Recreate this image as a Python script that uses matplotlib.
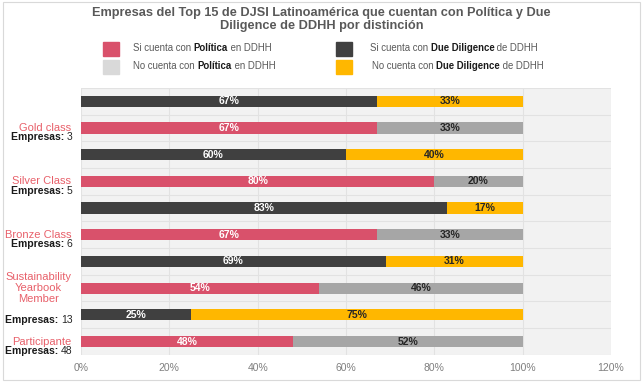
import numpy as np
import matplotlib
matplotlib.use('Agg')
import matplotlib.pyplot as plt
from matplotlib.patches import Rectangle

plt.rcParams['font.family'] = ['Liberation Sans', 'DejaVu Sans']

categorias = ['Gold class', 'Silver Class', 'Bronze Class',
              'Sustainability\nYearbook\nMember', 'Participante']
empresas = [3, 5, 6, 13, 48]
politica_si = [67, 80, 67, 54, 48]
politica_no = [33, 20, 33, 46, 52]
dd_si = [67, 60, 83, 69, 25]
dd_no = [33, 40, 17, 31, 75]
xticks = [0, 20, 40, 60, 80, 100, 120]

c_pink = '#d9516b'
c_gray = '#a6a6a6'
c_dark = '#404040'
c_yellow = '#ffb700'
c_legend_gray = '#d9d9d9'
c_cat = '#e8606a'

fig = plt.figure(figsize=(6.43, 3.82), dpi=100)
fig.patches.append(Rectangle((0.004, 0.004), 0.992, 0.992, transform=fig.transFigure,
                             fill=False, edgecolor='#d9d9d9', lw=0.8))
ax = fig.add_axes([0.126, 0.071, 0.824, 0.699])
ax.set_facecolor('#f2f2f2')

h = 0.42
n = len(categorias)
for i in range(n):
    y_dd = 2 * i
    y_pol = 2 * i + 1
    ax.barh(y_dd, dd_si[i], height=h, color=c_dark, zorder=3)
    ax.barh(y_dd, dd_no[i], left=dd_si[i], height=h, color=c_yellow, zorder=3)
    ax.barh(y_pol, politica_si[i], height=h, color=c_pink, zorder=3)
    ax.barh(y_pol, politica_no[i], left=politica_si[i], height=h, color=c_gray, zorder=3)
    ax.text(dd_si[i] / 2, y_dd, f'{dd_si[i]}%', ha='center', va='center',
            color='white', fontsize=7.5, fontweight='bold', zorder=4)
    ax.text(dd_si[i] + dd_no[i] / 2, y_dd, f'{dd_no[i]}%', ha='center', va='center',
            color='#262626', fontsize=7.5, fontweight='bold', zorder=4)
    ax.text(politica_si[i] / 2, y_pol, f'{politica_si[i]}%', ha='center', va='center',
            color='white', fontsize=7.5, fontweight='bold', zorder=4)
    ax.text(politica_si[i] + politica_no[i] / 2, y_pol, f'{politica_no[i]}%', ha='center',
            va='center', color='#262626', fontsize=7.5, fontweight='bold', zorder=4)

    # etiqueta de categoria y numero de empresas
    nlin = categorias[i].count('\n') + 1
    cat = ax.annotate(categorias[i], xy=(0, y_pol), xycoords=('axes fraction', 'data'),
                      xytext=(-7, 0), textcoords='offset points', ha='right', va='center',
                      color=c_cat, fontsize=8, multialignment='center', linespacing=1.15)
    num = ax.annotate(f'{empresas[i]}', xy=(1, 0), xycoords=cat,
                      xytext=(1, 0.5 - 4 * (nlin - 1)),
                      textcoords='offset points', ha='right', va='top',
                      color='#262626', fontsize=7.5)
    ax.annotate('Empresas: ', xy=(0, 0), xycoords=num, ha='right', va='bottom',
                color='#1a1a1a', fontsize=7.5, fontweight='bold')

ax.set_xlim(0, 120)
ax.set_ylim(2 * n - 0.55, -0.45)
ax.set_xticks(xticks)
ax.set_xticklabels([f'{t}%' for t in xticks], color='#7f7f7f', fontsize=7.5)
ax.set_yticks(np.arange(-0.5, 2 * n, 1), minor=True)
ax.set_yticks([])
ax.grid(axis='y', which='minor', color='#e2e2e2', lw=0.8, zorder=1)
ax.grid(axis='x', which='major', color='#e2e2e2', lw=0.8, zorder=1)
ax.tick_params(axis='both', which='both', length=0)
ax.tick_params(axis='x', pad=6)
for s in ax.spines.values():
    s.set_visible(False)

fig.text(0.5, 0.982, 'Empresas del Top 15 de DJSI Latinoamérica que cuentan con Política y Due\n'
         'Diligence de DDHH por distinción', ha='center', va='top', color='#595959',
         fontsize=9.2, fontweight='bold', linespacing=1.1)

# leyenda
leyenda = [
    (103, 42, 133, 48, c_pink, ['Si cuenta con ', 'Política', ' en DDHH']),
    (103, 60, 133, 66, c_legend_gray, ['No cuenta con ', 'Política', ' en DDHH']),
    (336, 42, 370, 48, c_dark, ['Si cuenta con ', 'Due Diligence', ' de DDHH']),
    (336, 60, 372, 66, c_yellow, ['No cuenta con ', 'Due Diligence', ' de DDHH']),
]
W, H = 643.0, 382.0
for x, y, tx, ty, col, partes in leyenda:
    fig.patches.append(Rectangle((x / W, 1 - (y + 14) / H), 16 / W, 14 / H,
                                 transform=fig.transFigure, color=col))
    prev = fig.text(tx / W, 1 - ty / H, partes[0], ha='left', va='center',
                    fontsize=6.9, color='#595959')
    for k, p in enumerate(partes[1:]):
        prev = plt.annotate(p, xy=(1, 0), xycoords=prev, ha='left', va='bottom',
                            fontsize=6.9, color='#1a1a1a' if k == 0 else '#595959',
                            fontweight='bold' if k == 0 else 'normal',
                            annotation_clip=False)

fig.savefig('out.png', dpi=100, facecolor='white')
